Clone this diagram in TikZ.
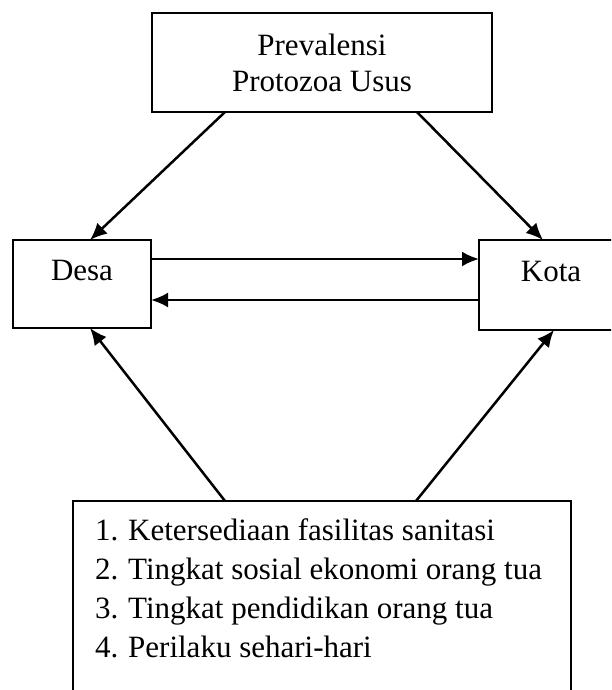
\documentclass[tikz,border=0pt]{standalone}
\usepackage{fontspec}
\setmainfont{Liberation Serif}
\usetikzlibrary{arrows.meta,calc}
\begin{document}
\begin{tikzpicture}[x=1pt,y=-1pt,
  box/.style={draw, line width=2.6pt, outer sep=0pt, inner sep=0pt},
  txt/.style={font=\fontsize{31}{36}\selectfont, inner sep=0pt},
  item/.style={txt, anchor=base west},
  conn/.style={line width=2.5pt, -{Latex[length=17pt,width=15pt]}}]
\useasboundingbox (0,0) rectangle (611,690);
\clip (0,0) rectangle (611,690);
\fill[white] (0,0) rectangle (611,690);
% boxes
\node[box, minimum width=340pt, minimum height=99pt] (top) at (322,62.5) {};
\node[txt, align=center] (toptext) at (322,63) {Prevalensi\\Protozoa Usus};
\node[box, minimum width=138pt, minimum height=88pt] (desa) at (82,284) {};
\node[txt, anchor=base] (desatext) at (82,280) {Desa};
\node[box, minimum width=144pt, minimum height=90pt] (kota) at (551,285) {};
\node[txt, anchor=base] (kotatext) at (551,281) {Kota};
\node[box, minimum width=498pt, minimum height=200pt] (bottom) at (322,601) {};
\node[item] (l1) at (95,540) {\makebox[33pt][l]{1.}Ketersediaan fasilitas sanitasi};
\node[item] (l2) at (95,579) {\makebox[33pt][l]{2.}Tingkat sosial ekonomi orang tua};
\node[item] (l3) at (95,618) {\makebox[33pt][l]{3.}Tingkat pendidikan orang tua};
\node[item] (l4) at (95,657) {\makebox[33pt][l]{4.}Perilaku sehari-hari};
% connectors
\draw[conn] ([xshift=73pt]top.south west) -- ([xshift=77pt]desa.north west);
\draw[conn] ([xshift=265pt]top.south west) -- ([xshift=64pt]kota.north west);
\draw[conn] ([yshift=-19pt]desa.north east) -- ([yshift=-19pt]kota.north west);
\draw[conn] ([yshift=-60pt]kota.north west) -- ([yshift=-60pt]desa.north east);
\draw[conn] ([xshift=152pt]bottom.north west) -- ([xshift=77pt]desa.south west);
\draw[conn] ([xshift=343pt]bottom.north west) -- ([xshift=75pt]kota.south west);
\end{tikzpicture}
\end{document}
